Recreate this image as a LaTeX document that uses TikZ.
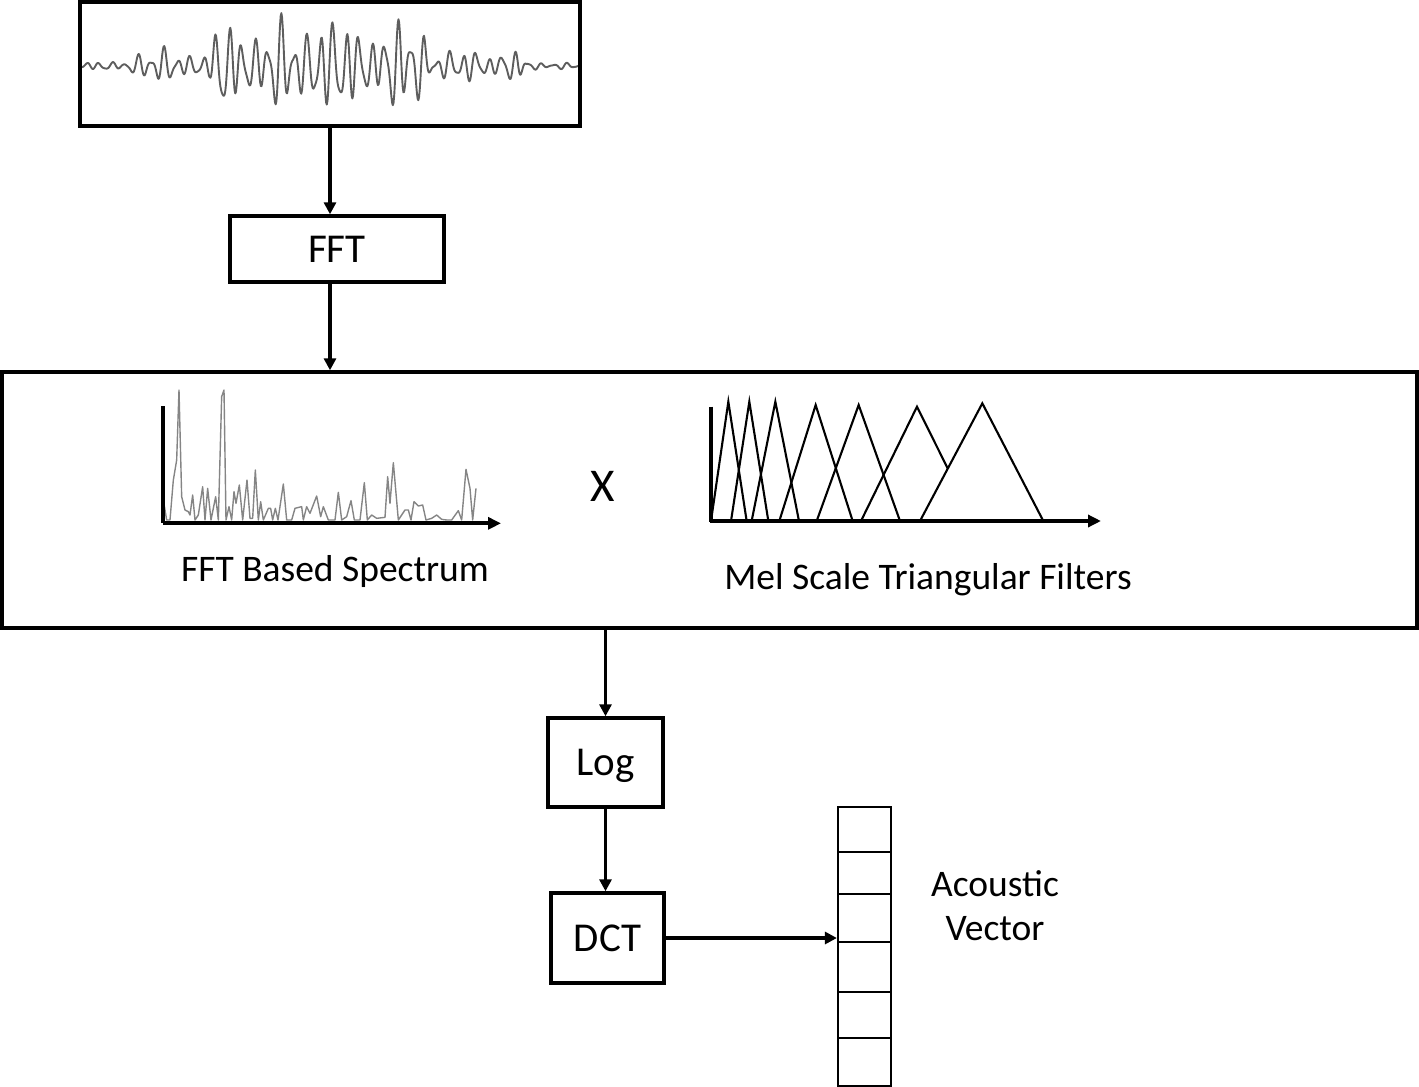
\documentclass[tikz,border=0pt]{standalone}
\usepackage{fontspec}
\setmainfont{Carlito}
\usetikzlibrary{arrows.meta}
\definecolor{wavegray}{HTML}{5E5E5E}
\definecolor{specgray}{HTML}{858585}
\begin{document}
\begin{tikzpicture}[x=1pt,y=-1pt,
  box/.style={draw, line width=3.4pt, inner sep=0pt, text depth=0pt, font=\fontsize{41}{48}\selectfont},
  conn/.style={line width=3.6pt, -{Triangle[length=12pt,width=12pt]}},
  lbl/.style={font=\fontsize{37.5}{44}\selectfont, inner sep=0pt},
  axis/.style={line width=3.8pt},
  axisarrow/.style={line width=3.8pt, -{Triangle[length=13pt,width=12pt]}},
  tri/.style={line width=2.1pt, line join=miter},
  declare function={
    rr(\u)=min(max((\u+4)/8,0),1);
    gg(\t)=exp(-min(((\t+12)/7)*((\t+12)/7),12));
    env(\t)=3+9*rr(\t+203)+20*rr(\t+116)-20*rr(\t-98)-9*rr(\t-192)+36*gg(\t);
    sig(\t)=(sin(27.7*\t)+0.4*sin(43*\t+30)+0.3*sin(15*\t+70))/1.3*(1+0.3*sin(6*\t+20));
  }]
\useasboundingbox (0,0) rectangle (1419,1087);

% waveform box
\node[box, minimum width=500pt, minimum height=124pt] (wave) at (330,64) {};
\begin{scope}
  \clip (wave.south west) rectangle (wave.north east);
  \draw[wavegray, line width=1.9pt, line join=round]
    plot[domain=-248:248, samples=700] ({330+\x}, {66-env(\x)*sig(\x)});
\end{scope}
\node[box, minimum width=500pt, minimum height=124pt] at (wave.center) {};

% FFT box
\node[box, minimum width=214pt, minimum height=66pt] (fft) at (337,249) {FFT};

% big box
\node[box, minimum width=1415pt, minimum height=256pt] (big) at (709.5,500) {};

% Log and DCT
\node[box, minimum width=115pt, minimum height=89pt] (log) at (605.5,762.5) {Log};
\node[box, minimum width=113pt, minimum height=90pt] (dct) at (607.5,938) {DCT};

% acoustic vector
\node[draw, line width=2.2pt, minimum width=53pt, minimum height=279pt, inner sep=0pt] (vec) at (864.5,946.5) {};
\foreach \yy in {852,894,942,992,1038} \draw[line width=1.4pt] (838,\yy) -- (891,\yy);
\node[lbl, align=center] (ac) at (995,906) {Acoustic\\Vector};

% connectors
\draw[conn] (wave.south) -- (wave.south |- fft.north);
\draw[conn] (wave.south |- fft.south) -- (wave.south |- big.north);
\draw[conn] (log.north |- big.south) -- (log.north);
\draw[conn] (log.south) -- (log.south |- dct.north);
\draw[conn] (dct.east) -- (dct.east -| vec.west);

% spectrum
\begin{scope}[shift={(150,380)}, scale=1/3]
  \draw[specgray, line width=1.4pt, line join=round]
    (40,360) -- (50,420) -- (60,420) -- (70,300) -- (80,240) -- (87,30) -- (95,350) -- (105,390) -- (115,395) -- (120,405) -- (128,345) -- (135,420) -- (145,405) -- (158,320) -- (165,420) -- (173,325) -- (183,420) -- (197,350) -- (205,420) -- (215,50) -- (222,30) -- (228,420) -- (237,380) -- (245,420) -- (252,335) -- (258,370) -- (268,315) -- (278,420) -- (291,300) -- (300,415) -- (308,415) -- (316,270) -- (325,420) -- (332,365) -- (340,420) -- (355,385) -- (362,385) -- (368,420) -- (376,385) -- (384,420) -- (400,312) -- (410,420) -- (425,420) -- (435,385) -- (455,380) -- (460,420) -- (470,380) -- (480,400) -- (500,348) -- (512,410) -- (520,380) -- (535,420) -- (555,420) -- (565,337) -- (575,420) -- (590,410) -- (603,362) -- (613,420) -- (630,420) -- (643,308) -- (652,420) -- (665,405) -- (680,415) -- (705,412) -- (713,290) -- (720,370) -- (730,248) -- (745,420) -- (755,405) -- (765,390) -- (775,390) -- (783,420) -- (792,365) -- (805,378) -- (818,375) -- (828,420) -- (845,415) -- (860,405) -- (875,418) -- (890,420) -- (905,420) -- (925,392) -- (935,420) -- (948,268) -- (960,325) -- (968,420) -- (978,325);
  \draw[axis] (40,78) -- (40,430);
  \draw[axisarrow] (38,430) -- (1053,430);
\end{scope}
\node[lbl] (spec) at (335,571) {FFT Based Spectrum};
\node[font=\fontsize{47}{54}\selectfont, inner sep=0pt] (times) at (603,486) {X};

% mel filters
\begin{scope}[shift={(700,395)}, scale=1/3]
  \draw[tri] (33,378) -- (85,20) -- (140,378);
  \draw[tri] (93,378) -- (148,20) -- (205,378);
  \draw[tri] (155,378) -- (226,20) -- (297,378);
  \draw[tri] (238,378) -- (347,30) -- (458,378);
  \draw[tri] (350,378) -- (476,30) -- (600,378);
  \draw[tri] (483,378) -- (651,35) -- (743,220);
  \draw[tri] (660,378) -- (847,25) -- (1030,378);
  \draw[axis] (33,35) -- (33,380);
  \draw[axisarrow] (31,378) -- (1203,378);
\end{scope}
\node[lbl] (mel) at (928,580) {Mel Scale Triangular Filters};
\end{tikzpicture}
\end{document}
